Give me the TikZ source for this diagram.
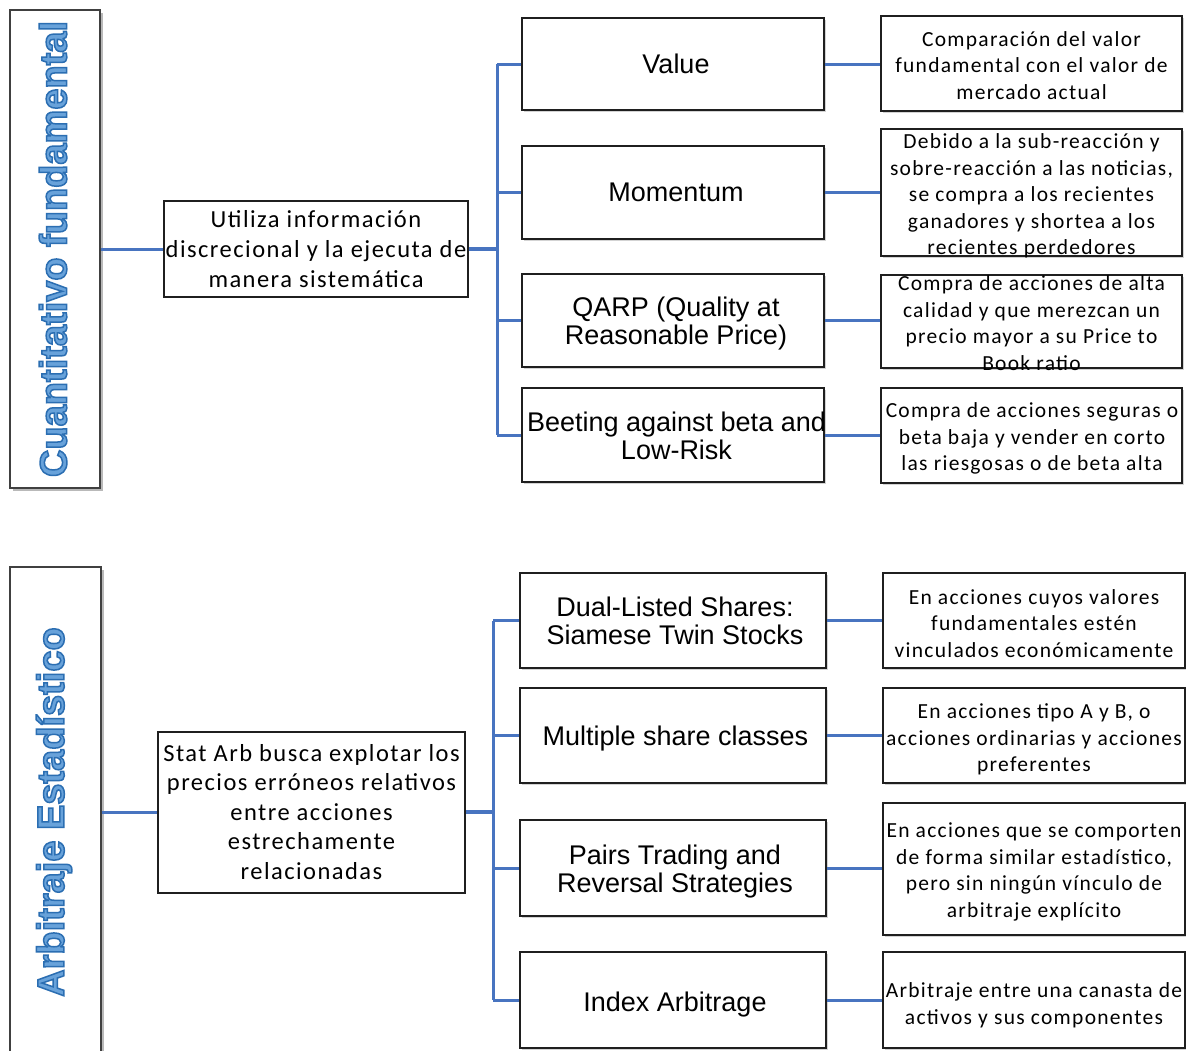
\documentclass[tikz,border=0pt]{standalone}
\usepackage{fontspec}
\setmainfont{Carlito}
\newfontfamily\descfont{Carlito}[LetterSpace=6]
\newfontfamily\labelfont{Liberation Sans}
\newfontfamily\titlefont{Liberation Sans Bold}
\usetikzlibrary{shadows}

\definecolor{linkblue}{RGB}{72,116,192}
\definecolor{titlefill}{RGB}{104,162,218}
\definecolor{titleline}{RGB}{44,110,178}

% text drawn with a light fill and a darker blue outline
\newcommand\outlined[1]{%
  \special{pdf:literal direct 2 Tr 1.5 w 0.17 0.43 0.70 RG}#1%
  \special{pdf:literal direct 0 Tr}}

\tikzset{
  frame/.style={draw=black!88, line width=2pt, fill=white, inner sep=0pt},
  catbox/.style={frame, draw=black!75,
    drop shadow={shadow xshift=3pt, shadow yshift=-3pt, opacity=0.55}},
  hubbox/.style={frame, align=center,
    font=\descfont\fontsize{24.5}{30}\selectfont},
  midbox/.style={frame,
    drop shadow={shadow xshift=1.5pt, shadow yshift=-1.5pt, opacity=0.35}},
  midtext/.style={align=center, inner sep=0pt,
    font=\labelfont\fontsize{27}{28}\selectfont},
  leafbox/.style={frame,
    drop shadow={shadow xshift=1.5pt, shadow yshift=-1.5pt, opacity=0.35}},
  leaftext/.style={align=center, inner sep=0pt,
    font=\descfont\fontsize{21.5}{26.5}\selectfont},
  cattext/.style={rotate=90, inner sep=0pt, text=titlefill,
    font=\titlefont\fontsize{38}{40}\selectfont},
  link/.style={draw=linkblue, line width=3pt},
  spur/.style={draw=linkblue, line width=4.5pt},
}

\begin{document}
\begin{tikzpicture}[x=1pt, y=-1pt]
\useasboundingbox (0,0) rectangle (1186,1050);

% ---------------- Cuantitativo fundamental ----------------
\node[catbox, minimum width=90pt, minimum height=478pt] (catA) at (55,249) {};
\node[cattext] (catAt) at (53,249) {\outlined{Cuantitativo fundamental}};

\node[hubbox, minimum width=304pt, minimum height=96pt] (hubA) at (316,249)
  {Utiliza información\\discrecional y la ejecuta de\\manera sistemática};

\node[midbox, minimum width=302pt, minimum height=92pt] (mA1) at (673,64) {};
\node[midtext] (sA1) at (676,64) {Value};
\node[midbox, minimum width=302pt, minimum height=93pt] (mA2) at (673,192.5) {};
\node[midtext] (sA2) at (676,192.5) {Momentum};
\node[midbox, minimum width=302pt, minimum height=93pt] (mA3) at (673,320.5) {};
\node[midtext] (sA3) at (676,324) {QARP (Quality at\\Reasonable Price)};
\node[midbox, minimum width=302pt, minimum height=94pt] (mA4) at (673,435) {};
\node[midtext] (sA4) at (676.5,436) {Beeting against beta and\\Low-Risk};

\node[leafbox, minimum width=301pt, minimum height=95pt] (rA1) at (1031.5,63.5) {};
\node[leaftext] (tA1) at (1031.5,65.5)
  {Comparación del valor\\fundamental con el valor de\\mercado actual};
\node[leafbox, minimum width=301pt, minimum height=127pt] (rA2) at (1031.5,192.5) {};
\node[leaftext] (tA2) at (1031.5,196)
  {Debido a la sub-reacción y\\sobre-reacción a las noticias,\\se compra a los recientes\\ganadores y shortea a los\\recientes perdedores};
\node[leafbox, minimum width=301pt, minimum height=93pt] (rA3) at (1031.5,321.5) {};
\node[leaftext] (tA3) at (1031.5,323)
  {Compra de acciones de alta\\calidad y que merezcan un\\precio mayor a su Price to\\Book ratio};
\node[leafbox, minimum width=301pt, minimum height=95pt] (rA4) at (1031.5,435.5) {};
\node[leaftext] (tA4) at (1032,438.5)
  {Compra de acciones seguras o\\beta baja y vender en corto\\las riesgosas o de beta alta};

% connectors
\draw[link] (catA.east) -- (hubA.west);
\draw[spur] (hubA.east) -- ++(28,0) coordinate (jA);
\draw[link] (jA |- mA1.west) -- (jA |- mA4.west);
\foreach \m in {mA1,mA2,mA3,mA4} \draw[link] (jA |- \m.west) -- (\m.west);
\foreach \m/\r in {mA1/rA1,mA2/rA2,mA3/rA3,mA4/rA4} \draw[link] (\m.east) -- (\m.east -| \r.west);

% ---------------- Arbitraje Estadístico ----------------
\node[catbox, minimum width=91pt, minimum height=500pt] (catB) at (55.5,817) {};
\node[cattext] (catBt) at (54,812) {\outlined{Arbitraje Estadístico}};

\node[hubbox, minimum width=307pt, minimum height=161pt,
  font=\descfont\fontsize{24.5}{29.5}\selectfont] (hubB) at (311.5,812)
  {Stat Arb busca explotar los\\precios erróneos relativos\\entre acciones\\estrechamente\\relacionadas};

\node[midbox, minimum width=306pt, minimum height=95pt] (mB1) at (673,620.5) {};
\node[midtext] (sB1) at (675,620.5) {Dual-Listed Shares:\\Siamese Twin Stocks};
\node[midbox, minimum width=306pt, minimum height=95pt] (mB2) at (673,735.5) {};
\node[midtext] (sB2) at (675.5,738.5) {Multiple share classes};
\node[midbox, minimum width=306pt, minimum height=96pt] (mB3) at (673,868) {};
\node[midtext] (sB3) at (675,872) {Pairs Trading and\\Reversal Strategies};
\node[midbox, minimum width=306pt, minimum height=96pt] (mB4) at (673,1000) {};
\node[midtext] (sB4) at (675,1005) {Index Arbitrage};

\node[leafbox, minimum width=302pt, minimum height=95pt] (rB1) at (1034,620.5) {};
\node[leaftext] (tB1) at (1034,623.5)
  {En acciones cuyos valores\\fundamentales estén\\vinculados económicamente};
\node[leafbox, minimum width=302pt, minimum height=95pt] (rB2) at (1034,735.5) {};
\node[leaftext] (tB2) at (1034,739.5)
  {En acciones tipo A y B, o\\acciones ordinarias y acciones\\preferentes};
\node[leafbox, minimum width=302pt, minimum height=132pt] (rB3) at (1034,869) {};
\node[leaftext] (tB3) at (1034,872)
  {En acciones que se comporten\\de forma similar estadístico,\\pero sin ningún vínculo de\\arbitraje explícito};
\node[leafbox, minimum width=302pt, minimum height=96pt] (rB4) at (1034,1000) {};
\node[leaftext] (tB4) at (1034,1005.5)
  {Arbitraje entre una canasta de\\activos y sus componentes};

% connectors
\draw[link] (catB.east |- hubB.west) -- (hubB.west);
\draw[spur] (hubB.east) -- ++(27,0) coordinate (jB);
\draw[link] (jB |- mB1.west) -- (jB |- mB4.west);
\foreach \m in {mB1,mB2,mB3,mB4} \draw[link] (jB |- \m.west) -- (\m.west);
\foreach \m/\r in {mB1/rB1,mB2/rB2,mB3/rB3,mB4/rB4} \draw[link] (\m.east) -- (\m.east -| \r.west);
\end{tikzpicture}
\end{document}
